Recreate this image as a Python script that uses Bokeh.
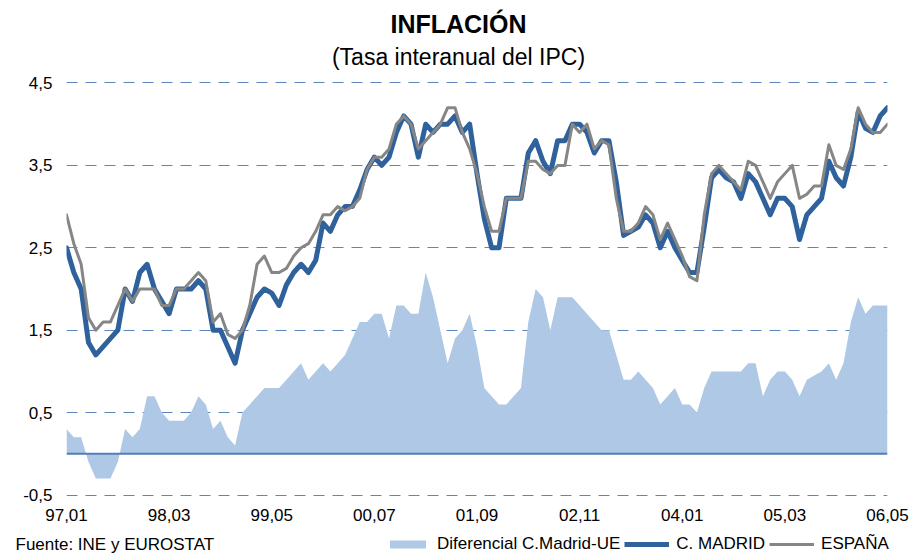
from bokeh.plotting import figure
from bokeh.layouts import column
from bokeh.models import Range1d, FixedTicker, Label, Span, Legend, LegendItem
from bokeh.embed import file_html
from bokeh.resources import INLINE

# ---------------- data (monthly, 1997.01 - 2006.05) ----------------
madrid = [
    2.5, 2.2, 2.0, 1.35, 1.2, 1.3, 1.4, 1.5, 2.0, 1.85, 2.2, 2.3,      # 1997
    2.0, 1.85, 1.7, 2.0, 2.0, 2.0, 2.1, 2.0, 1.5, 1.5, 1.3, 1.1,       # 1998
    1.5, 1.7, 1.9, 2.0, 1.95, 1.8, 2.05, 2.2, 2.3, 2.2, 2.35, 2.8,     # 1999
    2.7, 2.9, 3.0, 3.0, 3.2, 3.45, 3.6, 3.5, 3.6, 3.9, 4.1, 4.0,       # 2000
    3.6, 4.0, 3.9, 4.0, 4.0, 4.1, 3.9, 4.0, 3.4, 2.85, 2.5, 2.5,       # 2001
    3.1, 3.1, 3.1, 3.65, 3.8, 3.55, 3.4, 3.8, 3.8, 4.0, 4.0, 3.9,      # 2002
    3.65, 3.8, 3.8, 3.3, 2.65, 2.7, 2.75, 2.9, 2.8, 2.5, 2.7, 2.5,     # 2003
    2.35, 2.2, 2.2, 2.75, 3.35, 3.45, 3.35, 3.3, 3.1, 3.4, 3.3, 3.1,   # 2004
    2.9, 3.1, 3.1, 3.0, 2.6, 2.9, 3.0, 3.1, 3.55, 3.35, 3.25, 3.6,     # 2005
    4.15, 3.95, 3.9, 4.1, 4.2,                                          # 2006
]
espana = [
    2.9, 2.55, 2.3, 1.65, 1.5, 1.6, 1.6, 1.8, 2.0, 1.85, 2.0, 2.0,
    2.0, 1.8, 1.8, 2.0, 2.0, 2.1, 2.2, 2.1, 1.6, 1.7, 1.45, 1.4,
    1.5, 1.8, 2.3, 2.4, 2.2, 2.2, 2.25, 2.4, 2.5, 2.55, 2.7, 2.9,
    2.9, 3.0, 2.95, 3.0, 3.1, 3.45, 3.6, 3.6, 3.7, 4.0, 4.1, 4.0,
    3.7, 3.8, 3.9, 4.0, 4.2, 4.2, 3.9, 3.7, 3.4, 3.0, 2.7, 2.7,
    3.1, 3.1, 3.1, 3.55, 3.55, 3.45, 3.4, 3.5, 3.5, 4.0, 3.9, 4.0,
    3.7, 3.8, 3.75, 3.1, 2.7, 2.7, 2.8, 3.0, 2.9, 2.6, 2.8, 2.6,
    2.4, 2.15, 2.1, 2.9, 3.4, 3.5, 3.4, 3.3, 3.2, 3.55, 3.5, 3.3,
    3.1, 3.3, 3.4, 3.5, 3.1, 3.15, 3.25, 3.25, 3.75, 3.5, 3.45, 3.7,
    4.2, 4.0, 3.9, 3.9, 4.0,
]
diferencial = [
    0.3, 0.2, 0.2, -0.1, -0.3, -0.3, -0.3, -0.1, 0.3, 0.2, 0.3, 0.7,
    0.7, 0.5, 0.4, 0.4, 0.4, 0.5, 0.7, 0.6, 0.3, 0.4, 0.2, 0.1,
    0.5, 0.6, 0.7, 0.8, 0.8, 0.8, 0.9, 1.0, 1.1, 0.9, 1.0, 1.1,
    1.0, 1.1, 1.2, 1.4, 1.6, 1.6, 1.7, 1.7, 1.4, 1.8, 1.8, 1.7,
    1.7, 2.2, 1.9, 1.5, 1.1, 1.4, 1.5, 1.7, 1.3, 0.8, 0.7, 0.6,
    0.6, 0.7, 0.8, 1.6, 2.0, 1.9, 1.5, 1.9, 1.9, 1.9, 1.8, 1.7,
    1.6, 1.5, 1.5, 1.2, 0.9, 0.9, 1.0, 0.9, 0.8, 0.6, 0.7, 0.8,
    0.6, 0.6, 0.5, 0.8, 1.0, 1.0, 1.0, 1.0, 1.0, 1.1, 1.1, 0.7,
    0.9, 1.0, 1.0, 0.9, 0.7, 0.9, 0.95, 1.0, 1.1, 0.9, 1.1, 1.6,
    1.9, 1.7, 1.8, 1.8, 1.8,
]
ticks_x = [0, 14, 28, 42, 56, 70, 84, 98, 112]
etiquetas_x = ["97,01", "98,03", "99,05", "00,07", "01,09", "02,11", "04,01", "05,03", "06,05"]
ticks_y = [-0.5, 0.5, 1.5, 2.5, 3.5, 4.5]
etiquetas_y = ["-0,5", "0,5", "1,5", "2,5", "3,5", "4,5"]

titulo = "INFLACIÓN"
subtitulo = "(Tasa interanual del IPC)"
fuente = "Fuente: INE y EUROSTAT"
nombres = ["Diferencial C.Madrid-UE", "C. MADRID", "ESPAÑA"]

mes = list(range(len(madrid)))

# ---------------- styles ----------------
FONT = "Liberation Sans"
C_AREA = "#aec8e5"
C_MAD = "#2f629c"
C_ESP = "#868686"
C_GRID = "#5a86bd"
W = 912
H_TOP, H_MAIN, H_BOT = 75, 455, 25


def blank(height):
    f = figure(width=W, height=height, output_backend="svg", toolbar_location=None,
               x_range=Range1d(0, W), y_range=Range1d(0, height),
               x_axis_location=None, y_axis_location=None, frame_align=False,
               min_border_left=0, min_border_right=0, min_border_top=0, min_border_bottom=0)
    f.grid.visible = False
    f.outline_line_color = None
    f.background_fill_color = "white"
    f.border_fill_color = "white"
    return f


# ---------------- title block ----------------
top = blank(H_TOP)
top.add_layout(Label(x=458, y=H_TOP - 23, text=titulo, text_align="center",
                     text_baseline="alphabetic", text_font=FONT, text_font_size="25px",
                     text_font_style="bold", text_color="#000000"))
top.add_layout(Label(x=458, y=H_TOP - 56, text=subtitulo, text_align="center",
                     text_baseline="alphabetic", text_font=FONT, text_font_size="23px",
                     text_color="#000000"))

# ---------------- main chart ----------------
p = figure(width=W, height=H_MAIN, output_backend="svg", toolbar_location=None,
           x_range=Range1d(0, len(mes) - 1), y_range=Range1d(-0.53, 4.53), frame_align=False,
           min_border_left=66, min_border_right=25, min_border_top=5, min_border_bottom=33)
p.outline_line_color = None
p.background_fill_color = "white"
p.border_fill_color = "white"

p.xaxis.ticker = FixedTicker(ticks=ticks_x)
p.xaxis.major_label_overrides = dict(zip(ticks_x, etiquetas_x))
p.yaxis.ticker = FixedTicker(ticks=ticks_y)
p.yaxis.major_label_overrides = dict(zip(ticks_y, etiquetas_y))
for ax in (p.xaxis, p.yaxis):
    ax.axis_line_color = None
    ax.major_tick_line_color = None
    ax.minor_tick_line_color = None
    ax.major_tick_out = 0
    ax.major_tick_in = 0
    ax.major_label_text_font = FONT
    ax.major_label_text_font_size = "17px"
    ax.major_label_text_color = "#000000"
p.yaxis.major_label_standoff = 14
p.xaxis.major_label_standoff = 11

p.xgrid.visible = False
p.ygrid.grid_line_color = C_GRID
p.ygrid.grid_line_dash = "11 8"
p.ygrid.grid_line_width = 1

p.varea(x=mes, y1=0, y2=diferencial, fill_color=C_AREA, fill_alpha=1.0)
p.add_layout(Span(location=0, dimension="width", line_color="#4f7fb8", line_width=2))
p.line(mes, madrid, line_color=C_MAD, line_width=5, line_join="round", line_cap="round")
p.line(mes, espana, line_color=C_ESP, line_width=3, line_join="round", line_cap="round")

# ---------------- footer + legend ----------------
bot = blank(H_BOT)
bot.add_layout(Label(x=15, y=11, text=fuente, text_align="left",
                     text_baseline="middle", text_font=FONT, text_font_size="17px",
                     text_color="#000000"))
# legend keys: hidden copies of the three series, used only for their styles
g_area = bot.varea(x=mes, y1=0, y2=diferencial, fill_color=C_AREA, visible=False)
g_mad = bot.line(mes, madrid, line_color=C_MAD, line_width=5, visible=False)
g_esp = bot.line(mes, espana, line_color=C_ESP, line_width=3, visible=False)
legend = Legend(items=[LegendItem(label=nombres[0], renderers=[g_area]),
                       LegendItem(label=nombres[1], renderers=[g_mad]),
                       LegendItem(label=nombres[2], renderers=[g_esp])],
                location=(385, 1), orientation="horizontal",
                border_line_color=None, background_fill_alpha=0,
                inactive_fill_alpha=0,
                label_text_font=FONT, label_text_font_size="17px", label_text_color="#000000",
                glyph_width=45, glyph_height=10, label_height=17, label_standoff=7,
                spacing=4, padding=0, margin=0)
bot.add_layout(legend)

layout = column(top, p, bot, spacing=0)
open("out.html", "w").write(file_html(layout, INLINE))
